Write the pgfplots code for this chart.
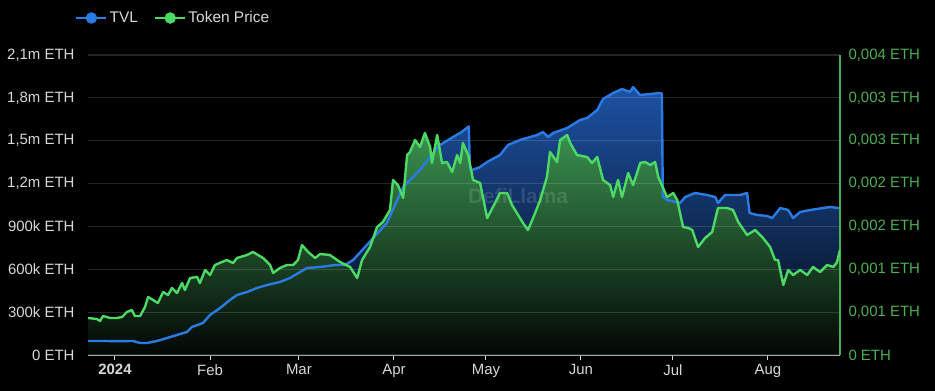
\documentclass[border=0pt]{standalone}
\usepackage{pgfplots}
\usepackage{pgfplotstable}
\pgfplotsset{compat=1.18}
\usepackage{fontspec}
\setmainfont{Liberation Sans}
\definecolor{tvlblue}{HTML}{2A7BE4}
\definecolor{pricegreen}{HTML}{4CDA64}
\definecolor{axisgreen}{HTML}{4CAF50}
\definecolor{ticklab}{HTML}{D8D8D8}
\definecolor{bluetop}{HTML}{1D52A4}
\definecolor{bluebot}{HTML}{040810}
\definecolor{greentop}{HTML}{3A9150}
\definecolor{greenbot}{HTML}{030604}

\pgfplotstableread{
x y
-8.8 98
-4 98
2 97
5.9 98
8.2 84
10.4 84
13.7 98
17.0 119
20.2 140
23.5 161
25.1 196
28.7 224
31.0 280
34.3 329
37.5 385
39.8 420
43.1 441
46.3 469
49.6 490
53.8 511
57.1 539
60.4 581
62.6 609
66.9 616
71.8 630
75.0 630
77.7 665
88.7 924
94.0 1176
99.5 1295
103.8 1414
106.0 1470
110.3 1526
113.0 1560
115.4 1600
115.8 1300
116.5 1295
119.1 1316
121.4 1351
125.6 1400
128.2 1470
132.1 1505
137.7 1540
139.6 1561
141.3 1526
142.9 1554
147.5 1589
151.7 1645
154.0 1659
157.3 1715
159.2 1792
162.5 1834
165.4 1862
168.0 1841
169.0 1876
171.3 1820
177.8 1834
178.4 1830
178.7 1110
180.1 1085
184.3 1064
186.0 1106
189.2 1134
193.1 1120
195.8 1106
196.7 1064
199.0 1120
203.9 1120
206.2 1134
207.0 994
209.5 980
212.7 973
214.4 959
217.0 1029
219.6 1015
221.2 959
223.5 1001
226.8 1015
231.0 1029
233.3 1036
235.9 1029
236.5 1030
}\tvl

\pgfplotstableread{
x y
-8.8 0.000432
-5.9 0.000420
-4.9 0.000397
-3.9 0.000455
-1.6 0.000432
0.7 0.000432
2.3 0.000443
3.9 0.000502
5.5 0.000525
6.5 0.000455
8.2 0.000455
9.8 0.000560
10.8 0.000677
12.4 0.000642
14.0 0.000607
15.7 0.000735
17.3 0.000700
18.6 0.000782
20.2 0.000723
21.9 0.000840
22.8 0.000758
24.5 0.000898
26.8 0.000910
27.7 0.000840
29.4 0.000992
31.0 0.000933
32.6 0.001050
34.9 0.001085
36.5 0.001108
38.5 0.001073
39.8 0.001132
43.1 0.001167
45.0 0.001202
48.3 0.001132
50.6 0.001050
51.6 0.000957
53.8 0.001015
56.1 0.001050
58.1 0.001050
59.7 0.001108
61.0 0.001283
63.0 0.001202
65.3 0.001132
66.9 0.001178
70.1 0.001167
73.4 0.001085
76.7 0.001027
79.0 0.000898
80.6 0.001108
83.2 0.001260
85.5 0.001493
87.4 0.001552
89.7 0.001692
90.7 0.002042
92.3 0.001983
94.0 0.001832
95.3 0.002333
96.2 0.002368
97.9 0.002508
99.5 0.002427
101.1 0.002590
102.8 0.002427
103.4 0.002240
105.1 0.002567
106.7 0.002240
108.3 0.002252
110.0 0.002135
111.6 0.002333
112.6 0.002240
113.5 0.002473
115.2 0.002333
116.8 0.002042
119.1 0.002007
121.4 0.001598
123.3 0.001727
125.6 0.001890
127.9 0.001890
129.5 0.001750
131.5 0.001633
133.1 0.001540
134.7 0.001458
136.4 0.001598
138.7 0.001808
140.9 0.002077
141.9 0.002368
144.2 0.002252
145.2 0.002508
147.5 0.002567
148.5 0.002473
150.7 0.002333
154.0 0.002310
155.6 0.002240
157.3 0.002310
159.2 0.002042
161.5 0.001983
162.5 0.001843
164.1 0.002042
165.4 0.001843
167.4 0.002123
169.0 0.001983
170.6 0.002158
171.3 0.002240
172.9 0.002252
174.6 0.002217
176.2 0.002252
177.2 0.002077
180.1 0.001843
182.1 0.001890
183.4 0.001808
185.3 0.001493
187.0 0.001482
188.3 0.001458
190.2 0.001260
192.5 0.001365
194.8 0.001435
196.7 0.001715
199.7 0.001715
201.6 0.001692
203.3 0.001552
206.2 0.001400
208.8 0.001458
211.1 0.001377
213.7 0.001260
215.3 0.001108
216.3 0.001108
218.0 0.000817
219.6 0.000992
221.2 0.000933
223.5 0.000992
225.8 0.000933
227.7 0.001027
230.0 0.000968
232.3 0.001050
234.3 0.001027
235.5 0.001080
236.5 0.001225
}\price

\pgfplotsset{base/.style={scale only axis, width=752bp, height=300bp,
  xmin=-8.8, xmax=236.5, at={(0bp,0bp)}, anchor=south west}}

\begin{document}
\begin{tikzpicture}
\fill[black] (-88bp,-36bp) rectangle (847bp,355bp);

% blue area
\begin{axis}[base, hide axis, ymin=0, ymax=2100]
\addplot[draw=none, top color=bluetop, bottom color=bluebot] table {\tvl} \closedcycle;
\end{axis}

% green area
\begin{axis}[base, hide axis, ymin=0, ymax=0.0035, scaled y ticks=false]
\addplot[draw=none, top color=greentop, bottom color=greenbot] table {\price} \closedcycle;
\node[text=white, opacity=0.13, font=\bfseries\fontsize{21}{23}\selectfont] at (axis cs:131.5,0.00185) {DefiLlama};
\end{axis}

% left axis, grid, blue line
\begin{axis}[base, ymin=0, ymax=2100,
  axis x line*=bottom, axis y line*=left,
  x axis line style={draw=gray!70, line width=1bp},
  y axis line style={draw=none},
  ytick={0,300,600,900,1200,1500,1800,2100},
  yticklabels={0 ETH,300k ETH,600k ETH,900k ETH,{1,2m ETH},{1,5m ETH},{1,8m ETH},{2,1m ETH}},
  xtick={0,31,60,91,121,152,182,213},
  xticklabels={\textbf{2024},Feb,Mar,Apr,May,Jun,Jul,Aug},
  ymajorgrids, grid style={white, opacity=0.14, line width=1.2bp},
  ytick style={draw=none},
  xtick style={draw=ticklab, line width=1bp},
  tick align=outside, major tick length=5bp,
  ticklabel style={font=\fontsize{15}{17}\selectfont, text=ticklab},
  yticklabel shift=5bp,
  xticklabel shift=1bp,
]
\addplot[tvlblue, line width=2.4bp, line join=round] table {\tvl};
\end{axis}

% right axis, green line, legend
\begin{axis}[base, ymin=0, ymax=0.0035, scaled y ticks=false,
  axis x line=none, axis y line*=right,
  y axis line style={draw=axisgreen, line width=1.5bp},
  ytick={0,0.0005,0.001,0.0015,0.002,0.0025,0.003,0.0035},
  yticklabels={0 ETH,{0,001 ETH},{0,001 ETH},{0,002 ETH},{0,002 ETH},{0,003 ETH},{0,003 ETH},{0,004 ETH}},
  ytick style={draw=none},
  yticklabel style={font=\fontsize{15}{17}\selectfont, text=axisgreen},
  yticklabel shift=5bp,
  legend columns=2,
  legend style={at={(axis description cs:-0.0173,1.1233)}, anchor=west,
    draw=none, fill=none, text=ticklab, inner sep=0pt,
    font=\fontsize{15.5}{18}\selectfont,
    /tikz/every even column/.append style={column sep=14bp}},
  legend image code/.code={\draw[#1, line width=2.5bp] (0bp,0bp) -- (30bp,0bp); \fill[#1] (15bp,0bp) circle (5.5bp);},
]
\addlegendimage{color=tvlblue}
\addlegendentry{TVL}
\addlegendimage{color=pricegreen}
\addlegendentry{Token Price}
\addplot[pricegreen, line width=2.4bp, line join=round, forget plot] table {\price};
\end{axis}

\pgfresetboundingbox
\path (-88bp,-36bp) rectangle (847bp,355bp);
\end{tikzpicture}
\end{document}
